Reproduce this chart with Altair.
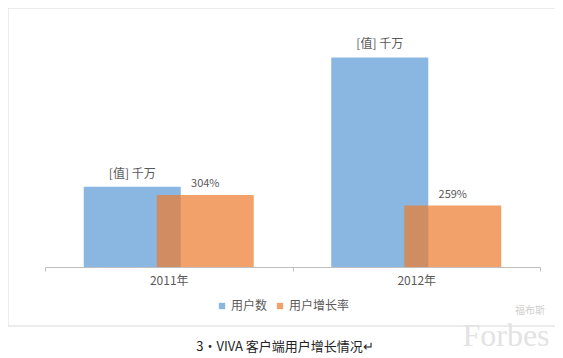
import altair as alt
import pandas as pd

# ---- data ----
years = ["2011年", "2012年"]
series_names = ["用户数", "用户增长率"]
users = [339, 884]            # estimated bar heights (same scale as growth)
growth = [304, 259]           # %
user_labels = ["[值] 千万", "[值] 千万"]
growth_labels = ["304%", "259%"]
colors = ["#5B9BD5", "#ED7D31"]
caption = "3·VIVA 客户端用户增长情况↵"
watermark = "Forbes"
watermark_cn = "福布斯"

FONT = "Noto Sans CJK SC"
TXT = "#595959"

df_users = pd.DataFrame({"year": years, "series": series_names[0], "value": users, "label": user_labels})
df_growth = pd.DataFrame({"year": years, "series": series_names[1], "value": growth, "label": growth_labels})

x_enc = alt.X("year:N", sort=years, title=None,
              scale=alt.Scale(paddingInner=0, paddingOuter=0),
              axis=alt.Axis(labelAngle=0, labelFont=FONT, labelFontSize=12, labelColor=TXT,
                            domainColor="#bfbfbf", tickColor="#bfbfbf", tickSize=4,
                            tickBand="extent", labelPadding=4))
y_enc = alt.Y("value:Q", scale=alt.Scale(domain=[0, 1000]), axis=None)
color_enc = alt.Color("series:N",
                      scale=alt.Scale(domain=series_names, range=colors),
                      legend=alt.Legend(title=None, orient="none", direction="horizontal",
                                        legendX=171, legendY=270, symbolType="square",
                                        symbolSize=40, symbolOpacity=0.72, symbolStrokeWidth=0,
                                        labelFont=FONT, labelFontSize=12, labelColor=TXT,
                                        padding=0, columnPadding=6, labelOffset=3))

OFF = 36.5
BW = 97

bars_u = alt.Chart(df_users).mark_bar(width=BW, xOffset=-OFF, opacity=0.72).encode(
    x=x_enc, y=y_enc, color=color_enc)
bars_g = alt.Chart(df_growth).mark_bar(width=BW, xOffset=OFF, opacity=0.72).encode(
    x=x_enc, y=y_enc, color=color_enc)

text_u = alt.Chart(df_users).mark_text(xOffset=-OFF, dy=-6, baseline="bottom", font=FONT,
                                       fontSize=12, color=TXT).encode(
    x=alt.X("year:N", sort=years), y="value:Q", text="label:N")
text_g = alt.Chart(df_growth).mark_text(xOffset=OFF, dy=-6, baseline="bottom", font=FONT,
                                        fontSize=11, color=TXT).encode(
    x=alt.X("year:N", sort=years), y="value:Q", text="label:N")

one = pd.DataFrame({"t": [caption], "w": [watermark], "c": [watermark_cn]})

frame = alt.Chart(one).mark_rect(filled=False, color="#d9d9d9", strokeWidth=1).encode(
    x=alt.value(-37), x2=alt.value(514), y=alt.value(-22), y2=alt.value(296))

cap = alt.Chart(one).mark_text(font=FONT, fontSize=13, color="#222222", baseline="middle").encode(
    x=alt.value(240), y=alt.value(317), text="t:N")

wm = alt.Chart(one).mark_text(font="Liberation Serif", fontSize=32, color="#e3e3e3",
                              baseline="middle").encode(
    x=alt.value(461), y=alt.value(306), text="w:N")
wm_cn = alt.Chart(one).mark_text(font=FONT, fontSize=10, color="#cfcfcf", baseline="middle").encode(
    x=alt.value(485), y=alt.value(281), text="c:N")

chart = alt.layer(frame, bars_u, bars_g, text_u, text_g, wm, wm_cn, cap).resolve_scale(
    y="shared").properties(
    width=495, height=237,
    padding={"left": 37, "top": 22, "right": 15, "bottom": 87},
    autosize=alt.AutoSizeParams(type="none"),
    background="white",
).configure_view(stroke=None)

chart.save("out.html", embed_options={"renderer": "svg", "actions": False})
